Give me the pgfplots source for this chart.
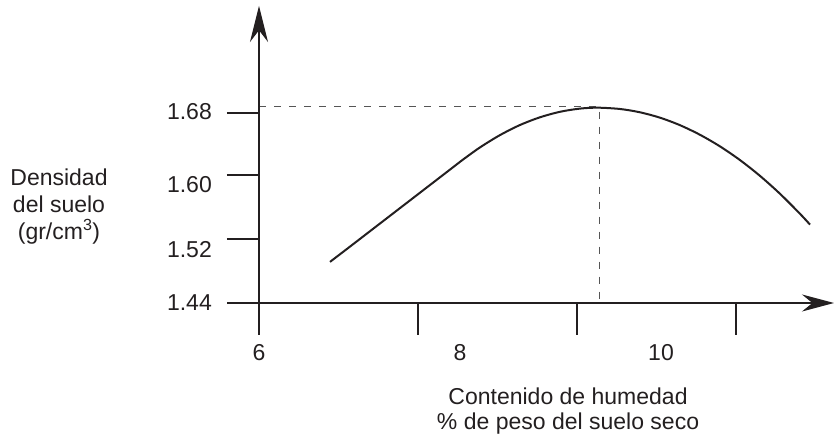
\documentclass[border=0pt]{standalone}
\usepackage{pgfplots}
\pgfplotsset{compat=1.18}
\usepackage{fontspec}
\setmainfont{Liberation Sans}
\usetikzlibrary{arrows.meta}
\definecolor{ink}{HTML}{231F20}
\definecolor{dashgray}{HTML}{555555}
\begin{document}
\begin{tikzpicture}
\path[use as bounding box] (0,0) rectangle (834pt,435pt);
\begin{axis}[
  at={(259pt,132pt)}, anchor=south west, scale only axis,
  width=575pt, height=297pt,
  xmin=6, xmax=11.7214, ymin=1.44, ymax=1.81125,
  clip=false,
  axis lines=left, axis line style={draw=none},
  tick align=outside, major tick length=32pt,
  tick style={ink, line width=1.2pt},
  /pgf/number format/assume math mode=true,
  tick label style={font=\fontsize{23}{27}\selectfont, text=ink},
  xtick={7.582,9.164,10.746}, xticklabels={},
  ytick={1.52,1.60,1.6775}, yticklabels={},
  extra x ticks={6,8,10}, extra x tick labels={6,8,10},
  extra x tick style={major tick length=0pt, tick style={draw=none},
    tick label style={anchor=north, yshift=-41pt, inner sep=0pt}},
  extra y ticks={1.44,1.50625,1.5875,1.67875}, extra y tick labels={1.44,1.52,1.60,1.68},
  extra y tick style={major tick length=0pt, tick style={draw=none},
    tick label style={anchor=east, xshift=-47pt, inner sep=0pt}},
  xlabel={Contenido de humedad\\\% de peso del suelo seco},
  every axis x label/.style={at={(axis cs:9.075,1.44)}, anchor=north, yshift=-85pt,
    align=center, inner sep=0pt, text=ink, font=\fontsize{23}{25}\selectfont},
  ylabel={Densidad\\del suelo\\(gr/cm\textsuperscript{3})},
  every axis y label/.style={at={(axis cs:6,1.44)}, anchor=north, xshift=-200pt, yshift=134pt,
    align=center, inner sep=0pt, text=ink, font=\fontsize{23}{27}\selectfont},
]
\addplot[dashgray, line width=1pt, dash pattern=on 7pt off 8pt] coordinates {
  (6,1.6854) (9.383,1.6854) (9.383,1.44)};
\addplot[ink, line width=2pt, smooth] coordinates {
  (6.7065,1.49138) (6.9055,1.51050) (7.1045,1.52975) (7.3035,1.54900)
  (7.5025,1.56825) (7.7015,1.58750) (7.9005,1.60675) (8.0299,1.61925)
  (8.1990,1.63450) (8.3980,1.64988) (8.5970,1.66250) (8.7960,1.67213)
  (8.9950,1.67900) (9.1940,1.68300) (9.3731,1.68413) (9.5920,1.68250)
  (9.7910,1.67838) (9.9900,1.67163) (10.1891,1.66225) (10.3881,1.65025)
  (10.5871,1.63575) (10.7861,1.61863) (10.9851,1.59888) (11.1841,1.57650)
  (11.3831,1.55150) (11.4826,1.53800)};
\draw[ink, line width=1.2pt, -{Stealth[length=32pt,width=17pt]}]
  (axis cs:5.6816,1.44) -- (axis cs:11.7214,1.44);
\draw[ink, line width=1.2pt, -{Stealth[length=36pt,width=18pt]}]
  (axis cs:6,1.40) -- (axis cs:6,1.81125);
\end{axis}
\end{tikzpicture}
\end{document}
